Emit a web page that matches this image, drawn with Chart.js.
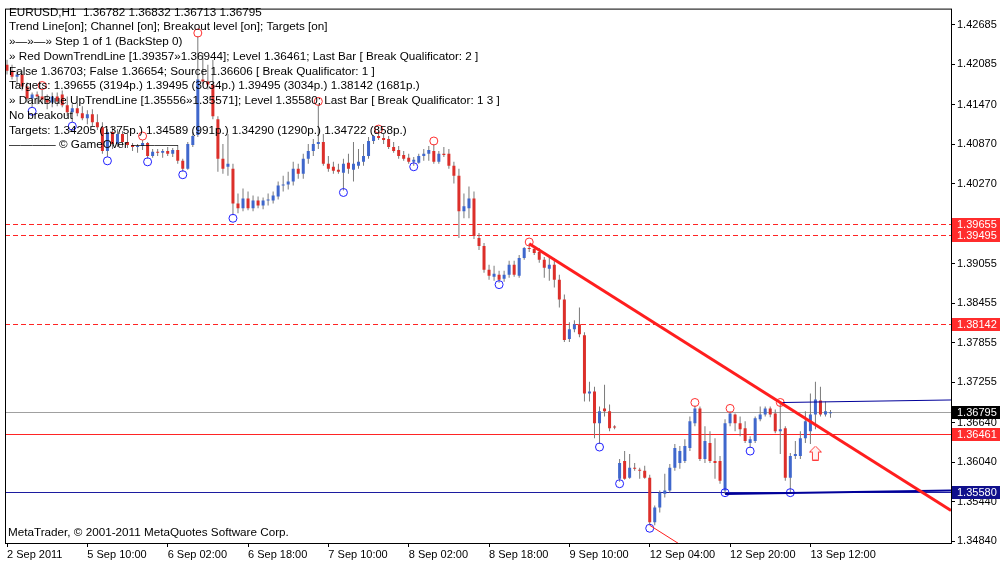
<!DOCTYPE html>
<html>
<head>
<meta charset="utf-8">
<script src="https://cdn.jsdelivr.net/npm/chart.js@4.4.1/dist/chart.umd.min.js"></script>
<style>
  html, body { margin: 0; padding: 0; background: #fff; }
  canvas { display: block; }
</style>
</head>
<body>
<canvas id="mtChart" width="1000" height="565"></canvas>
<script>
// EURUSD H1 candles
const opens = [1.42077,1.41987,1.41896,1.41927,1.41746,1.41565,1.41626,1.41595,1.4155,1.41505,
  1.41595,1.41626,1.4146,1.41355,1.41415,1.4134,1.41264,1.41325,1.41204,1.41129,
  1.40768,1.41054,1.40873,1.41024,1.40903,1.40858,1.40828,1.40843,1.40888,1.40692,
  1.40753,1.40738,1.40768,1.40723,1.40783,1.40617,1.40497,1.40858,1.41008,1.41851,
  1.41821,1.41776,1.41249,1.40647,1.40527,1.40497,1.3997,1.39895,1.40045,1.39895,
  1.40015,1.3994,1.40015,1.40015,1.40075,1.40241,1.40256,1.40301,1.40497,1.40422,
  1.40647,1.40768,1.40873,1.40903,1.40572,1.40527,1.40482,1.40437,1.40587,1.40482,
  1.40542,1.40602,1.40692,1.40918,1.40993,1.40963,1.40948,1.40828,1.40783,1.40707,
  1.40662,1.40602,1.40587,1.40692,1.40723,1.40768,1.40602,1.40723,1.40723,1.40542,
  1.40391,1.3985,1.39895,1.40045,1.39443,1.39323,1.38962,1.38856,1.38886,1.38826,
  1.38886,1.39037,1.38871,1.39142,1.39293,1.39278,1.39233,1.39112,1.38977,1.39037,
  1.38811,1.3851,1.37908,1.38059,1.38134,1.37968,1.3708,1.37111,1.36629,1.36855,
  1.3681,1.36569,1.35786,1.36057,1.35801,1.35952,1.35922,1.35907,1.35801,1.35124,
  1.3535,1.3556,1.35606,1.35952,1.36027,1.36057,1.36253,1.36629,1.36855,1.36087,
  1.36328,1.36057,1.36057,1.35606,1.36629,1.36764,1.36629,1.36554,1.36328,1.36358,
  1.36689,1.36764,1.36855,1.36779,1.36509,1.36554,1.35801,1.36132,1.36132,1.36403,
  1.36509,1.36764,1.36975,1.36764,1.36782];
const highs = [1.42152,1.42077,1.42002,1.41987,1.41806,1.41656,1.41671,1.41701,1.41626,1.41656,
  1.41656,1.41686,1.41595,1.41475,1.41505,1.41445,1.41385,1.414,1.41325,1.41204,
  1.41099,1.41144,1.41099,1.41069,1.41024,1.40888,1.40873,1.40933,1.40903,1.40798,
  1.40798,1.40798,1.40828,1.40813,1.40858,1.40647,1.40903,1.41054,1.42513,1.42258,
  1.42077,1.42152,1.41294,1.40873,1.41024,1.40572,1.40121,1.40196,1.40151,1.4009,
  1.40075,1.4006,1.40121,1.40151,1.40301,1.40391,1.40452,1.40602,1.40572,1.40723,
  1.40873,1.40948,1.41475,1.41024,1.40692,1.40602,1.40572,1.40647,1.40723,1.40903,
  1.40798,1.40873,1.40978,1.41008,1.41069,1.41024,1.40993,1.40903,1.40843,1.40768,
  1.40723,1.40677,1.40723,1.40798,1.40843,1.40873,1.40768,1.40828,1.40798,1.40602,
  1.40497,1.40121,1.40226,1.40151,1.39519,1.39368,1.39037,1.39022,1.38947,1.38947,
  1.39097,1.39097,1.39187,1.39308,1.39357,1.39308,1.39293,1.39157,1.39187,1.39142,
  1.38886,1.38585,1.38164,1.38194,1.3839,1.38014,1.37261,1.37186,1.36885,1.37216,
  1.36915,1.36599,1.36087,1.36208,1.36162,1.36027,1.35952,1.35982,1.35846,1.3538,
  1.35606,1.35861,1.36012,1.36313,1.36283,1.36388,1.36734,1.369,1.36885,1.36584,
  1.36509,1.36403,1.36132,1.36689,1.3681,1.36779,1.36734,1.36659,1.36433,1.36734,
  1.36885,1.36885,1.36885,1.3684,1.36944,1.36584,1.36177,1.36358,1.36509,1.3681,
  1.3708,1.37261,1.37186,1.3696,1.36832];
const lows = [1.41927,1.41851,1.41776,1.41686,1.41505,1.4143,1.41475,1.41475,1.414,1.4143,
  1.41445,1.4143,1.41294,1.41204,1.41294,1.41234,1.41174,1.41144,1.41084,1.40723,
  1.40677,1.40798,1.40828,1.40843,1.40813,1.40768,1.40738,1.40783,1.40647,1.40662,
  1.40692,1.40662,1.40692,1.40677,1.40572,1.40452,1.40482,1.40828,1.40978,1.41776,
  1.41701,1.41249,1.40452,1.40422,1.40391,1.39789,1.3982,1.3985,1.39865,1.3985,
  1.39895,1.3988,1.3994,1.3997,1.4003,1.40151,1.40181,1.40241,1.40346,1.40346,
  1.40572,1.40692,1.40798,1.40542,1.40452,1.40422,1.40422,1.40166,1.40422,1.40301,
  1.40497,1.40542,1.40647,1.40873,1.40933,1.40873,1.40798,1.40738,1.40647,1.40617,
  1.40572,1.40542,1.40572,1.40617,1.40617,1.40572,1.40572,1.40677,1.40497,1.40271,
  1.39443,1.39744,1.39744,1.39428,1.39263,1.38917,1.38811,1.38796,1.38766,1.38781,
  1.38841,1.38856,1.38841,1.39112,1.39233,1.39187,1.39067,1.38841,1.38796,1.38691,
  1.3839,1.37863,1.37863,1.38014,1.37938,1.3696,1.3696,1.36403,1.36313,1.36734,
  1.36509,1.36539,1.35741,1.35771,1.35786,1.35907,1.35786,1.35786,1.35079,1.35079,
  1.35274,1.355,1.35575,1.35907,1.35937,1.36027,1.36208,1.36584,1.36057,1.36027,
  1.36027,1.35786,1.35711,1.35556,1.36584,1.36509,1.36433,1.36328,1.36253,1.36328,
  1.36659,1.36734,1.36719,1.36478,1.36162,1.35756,1.35571,1.36087,1.36087,1.36328,
  1.36313,1.36539,1.36734,1.36734,1.36713];
const closes = [1.41987,1.41896,1.41927,1.41746,1.41565,1.41626,1.41595,1.4155,1.41505,1.41595,
  1.4152,1.4146,1.41355,1.41415,1.4134,1.41264,1.41325,1.41204,1.41129,1.40768,
  1.41054,1.40873,1.41024,1.40903,1.40858,1.40828,1.40843,1.40888,1.40692,1.40753,
  1.40738,1.40768,1.40723,1.40783,1.40617,1.40497,1.40873,1.40993,1.41851,1.41821,
  1.41776,1.41294,1.40647,1.40497,1.40572,1.3997,1.39895,1.40045,1.39895,1.40015,
  1.3994,1.40015,1.4003,1.4009,1.40241,1.40256,1.40301,1.40497,1.40422,1.40647,
  1.40768,1.40873,1.40903,1.40572,1.40497,1.40467,1.40452,1.40572,1.40497,1.40572,
  1.40602,1.40692,1.40918,1.40993,1.40963,1.40933,1.40828,1.40768,1.40692,1.40647,
  1.40602,1.40632,1.40692,1.40723,1.40783,1.40602,1.40723,1.40707,1.40542,1.40391,
  1.3985,1.39925,1.40045,1.39473,1.39323,1.38962,1.38871,1.38901,1.38811,1.38886,
  1.39037,1.38886,1.39142,1.39293,1.39278,1.39218,1.39112,1.38992,1.39037,1.38811,
  1.3851,1.37893,1.38059,1.38134,1.37983,1.3708,1.37111,1.36629,1.3681,1.3681,
  1.36554,1.36564,1.36027,1.35786,1.35952,1.35937,1.35907,1.35801,1.35124,1.3535,
  1.35575,1.35606,1.35952,1.36253,1.36208,1.36283,1.36659,1.36855,1.36087,1.36358,
  1.36057,1.36027,1.35756,1.36629,1.36779,1.36629,1.36539,1.36358,1.36388,1.36704,
  1.36764,1.36855,1.36764,1.36509,1.36539,1.35801,1.36132,1.36162,1.36403,1.36659,
  1.36764,1.3699,1.36764,1.3681,1.36795];

const tickIndex = [0, 16, 32, 48, 64, 80, 96, 112, 128, 144, 160];
const tickLabels = ['2 Sep 2011', '5 Sep 10:00', '6 Sep 02:00', '6 Sep 18:00', '7 Sep 10:00', '8 Sep 02:00',
  '8 Sep 18:00', '9 Sep 10:00', '12 Sep 04:00', '12 Sep 20:00', '13 Sep 12:00'];
const yTicks = [1.42685, 1.42085, 1.41470, 1.40870, 1.40270, 1.39055, 1.38455, 1.37855, 1.37255,
  1.36640, 1.36040, 1.35440, 1.34840];

// levels: targets 1.39655 / 1.39495 / 1.38142, bid, red level, blue level
const levelValues = [1.39655, 1.39495, 1.38142, 1.36795, 1.36461, 1.35580];

// fractal markers [bar, price]
const redFractals = [[7, 1.41761], [27, 1.40993], [38, 1.42559], [62, 1.4152], [74, 1.41099], [85, 1.40918],
  [104, 1.39383], [137, 1.36945], [144, 1.36855], [154, 1.36945]];
const blueFractals = [[5, 1.4137], [13, 1.41144], [20, 1.40617], [28, 1.40602], [35, 1.40406], [45, 1.39744],
  [67, 1.40136], [81, 1.40527], [98, 1.38736], [118, 1.36268], [122, 1.35711], [128, 1.35034],
  [143, 1.35575], [148, 1.36207], [156, 1.35575]];
const breakArrow = [[161, 1.36177]];

// trend lines from the indicator text
const downTrend = [[104, 1.39357], [154, 1.36944]];
const upTrend = [[143, 1.35556], [156, 1.35571]];
const downChannelFrom = [128, 1.35079];
const upChannelFrom = [154, 1.36944];

const infoLines = [
  'EURUSD,H1  1.36782 1.36832 1.36713 1.36795',
  'Trend Line[on]; Channel [on]; Breakout level [on]; Targets [on]',
  '»—»—» Step 1 of 1 (BackStep 0)',
  '» Red DownTrendLine [1.39357»1.36944]; Level 1.36461; Last Bar [ Break Qualificator: 2 ]',
  'False 1.36703; False 1.36654; Source 1.36606 [ Break Qualificator: 1 ]',
  'Targets: 1.39655 (3194p.) 1.39495 (3034p.) 1.39495 (3034p.) 1.38142 (1681p.)',
  '» DarkBlue UpTrendLine [1.35556»1.35571]; Level 1.35580; Last Bar [ Break Qualificator: 1 3 ]',
  'No breakout',
  'Targets: 1.34205 (1375p.) 1.34589 (991p.) 1.34290 (1290p.) 1.34722 (858p.)',
  '———— © GameOver ————'
];

const X_MAX = 188;
const FONT = '11px "Liberation Sans", Arial, sans-serif';
const INFO_FONT = '11.7px "Liberation Sans", Arial, sans-serif';
Chart.defaults.font.family = '"Liberation Sans", Arial, sans-serif';
Chart.defaults.font.size = 11;

function slopeOf(a, b) {
  return (b[1] - a[1]) / (b[0] - a[0]);
}
function ray(from, slope) {
  return [{x: from[0], y: from[1]}, {x: X_MAX, y: from[1] + slope * (X_MAX - from[0])}];
}

const downSlope = slopeOf(downTrend[0], downTrend[1]);
const upSlope = slopeOf(upTrend[0], upTrend[1]);

const wicks = lows.map((l, i) => ({x: i, y: [l, highs[i]]}));
const bodies = opens.map((o, i) => ({x: i, y: [o, closes[i]]}));
const bodyColors = opens.map((o, i) => closes[i] > o ? '#3f67cc' : (closes[i] < o ? '#dc2f2a' : '#808080'));

// hollow up arrow used for the break signal
const arrowImg = document.createElement('canvas');
arrowImg.width = 13;
arrowImg.height = 15;
(function() {
  const a = arrowImg.getContext('2d');
  a.beginPath();
  a.moveTo(6.5, 0.5); a.lineTo(12.5, 6.5); a.lineTo(9.5, 6.5); a.lineTo(9.5, 14.5);
  a.lineTo(3.5, 14.5); a.lineTo(3.5, 6.5); a.lineTo(0.5, 6.5); a.closePath();
  a.fillStyle = '#fff4f4';
  a.fill();
  a.strokeStyle = '#ff3c3c';
  a.lineWidth = 1;
  a.stroke();
})();

const mtPlugin = {
  id: 'mtPlugin',
  beforeDraw(chart) {
    const c = chart.ctx;
    c.save();
    c.fillStyle = '#fff';
    c.fillRect(0, 0, chart.width, chart.height);
    c.restore();
  },
  beforeDatasetsDraw(chart) {
    const c = chart.ctx, a = chart.chartArea, y = chart.scales.y;
    const colors = ['#ff2424', '#ff2424', '#ff2424', '#a0a0a0', '#ff2424', '#1c1ca0'];
    c.save();
    c.lineWidth = 1;
    levelValues.forEach((v, k) => {
      const py = Math.round(y.getPixelForValue(v)) + 0.5;
      c.strokeStyle = colors[k];
      c.setLineDash(k < 3 ? [5, 3] : []);
      c.beginPath();
      c.moveTo(a.left, py);
      c.lineTo(a.right, py);
      c.stroke();
    });
    c.restore();
  },
  afterDraw(chart) {
    const c = chart.ctx, a = chart.chartArea, y = chart.scales.y;
    c.save();
    // frame
    c.strokeStyle = '#000';
    c.lineWidth = 1;
    c.strokeRect(a.left + 0.5, a.top + 0.5, a.right - a.left, a.bottom - a.top);
    // price labels of the levels
    const bg = ['#ff2c2c', '#ff2c2c', '#ff2c2c', '#000000', '#ff2c2c', '#10108c'];
    c.font = FONT;
    c.textBaseline = 'middle';
    levelValues.forEach((v, k) => {
      const py = Math.round(y.getPixelForValue(v));
      c.fillStyle = bg[k];
      c.fillRect(a.right + 1, py - 6, chart.width - a.right - 1, 13);
      c.fillStyle = '#fff';
      c.fillText(v.toFixed(5), a.right + 6, py + 0.5);
    });
    // indicator text
    c.fillStyle = '#000';
    c.font = INFO_FONT;
    infoLines.forEach((t, k) => c.fillText(t, 9, 12.5 + k * 14.75));
    c.fillText('MetaTrader, © 2001-2011 MetaQuotes Software Corp.', 8, 533);
    c.restore();
  }
};

const ctx = document.getElementById('mtChart').getContext('2d');
new Chart(ctx, {
  type: 'bar',
  data: {
    datasets: [
      {type: 'line', data: ray(downTrend[0], downSlope), borderColor: '#ff1e1e', borderWidth: 3, pointRadius: 0, order: 0},
      {type: 'line', data: ray(downChannelFrom, downSlope), borderColor: '#ff1e1e', borderWidth: 1, pointRadius: 0, order: 0},
      {type: 'line', data: ray(upTrend[0], upSlope), borderColor: '#00009a', borderWidth: 2, pointRadius: 0, order: 0},
      {type: 'line', data: ray(upChannelFrom, upSlope), borderColor: '#00009a', borderWidth: 1, pointRadius: 0, order: 0},
      {type: 'scatter', data: redFractals.map(p => ({x: p[0], y: p[1]})), pointStyle: 'circle', pointRadius: 4,
        borderColor: '#ff3030', backgroundColor: 'rgba(0,0,0,0)', borderWidth: 1, order: 1},
      {type: 'scatter', data: blueFractals.map(p => ({x: p[0], y: p[1]})), pointStyle: 'circle', pointRadius: 4,
        borderColor: '#2020ff', backgroundColor: 'rgba(0,0,0,0)', borderWidth: 1, order: 1},
      {type: 'scatter', data: breakArrow.map(p => ({x: p[0], y: p[1]})), pointStyle: arrowImg, order: 1},
      {data: bodies, backgroundColor: bodyColors, barThickness: 3, minBarLength: 1, grouped: false,
        borderWidth: 0, inflateAmount: 0, order: 2},
      {data: wicks, backgroundColor: '#7a7a7a', barThickness: 1, grouped: false,
        borderWidth: 0, inflateAmount: 0, order: 3}
    ]
  },
  options: {
    responsive: false,
    animation: false,
    events: [],
    layout: {padding: {left: 3, top: 3, right: 0, bottom: 0}},
    plugins: {legend: {display: false}, tooltip: {enabled: false}},
    scales: {
      x: {
        type: 'linear',
        offset: false,
        min: -0.4,
        max: X_MAX,
        afterBuildTicks: s => { s.ticks = tickIndex.map(v => ({value: v})); },
        afterFit: s => { s.height = 22; },
        ticks: {
          callback: (v, i) => tickLabels[i],
          align: 'start',
          autoSkip: false,
          maxRotation: 0,
          minRotation: 0,
          padding: 1,
          color: '#000'
        },
        grid: {offset: false, drawOnChartArea: false, drawTicks: true, tickLength: 4, color: '#000'},
        border: {display: false}
      },
      y: {
        position: 'right',
        min: 1.3481,
        max: 1.4293,
        afterBuildTicks: s => { s.ticks = yTicks.map(v => ({value: v})); },
        afterFit: s => { s.width = 49; },
        ticks: {callback: v => v.toFixed(5), padding: 2, color: '#000'},
        grid: {drawOnChartArea: false, drawTicks: true, tickLength: 4, color: '#000'},
        border: {display: false}
      }
    }
  },
  plugins: [mtPlugin]
});
</script>
</body>
</html>
